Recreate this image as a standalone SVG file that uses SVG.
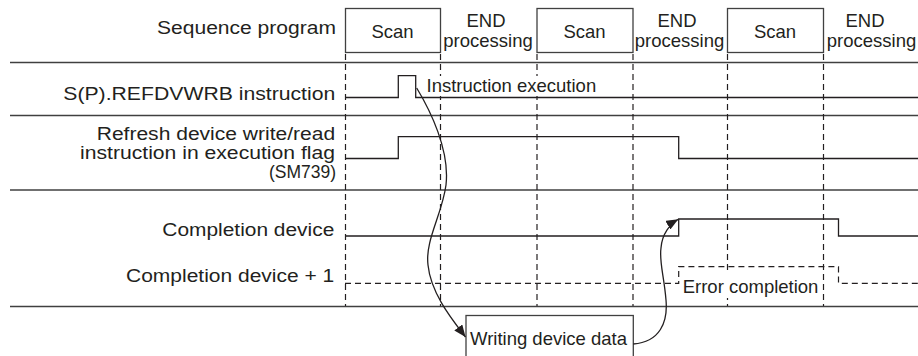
<svg xmlns="http://www.w3.org/2000/svg" width="918" height="356" viewBox="0 0 918 356">
<style>
text{font-family:"Liberation Sans",Arial,sans-serif;font-size:18.5px;fill:#231f20}
.lbl{font-size:17.5px}
.sep{stroke:#404040;stroke-width:1.5;fill:none}
.sig{stroke:#231f20;stroke-width:1.3;fill:none}
.dash{stroke:#231f20;stroke-width:1.2;fill:none;stroke-dasharray:6 4}
.box{stroke:#404040;stroke-width:1.3;fill:#fff}
.arr{stroke:#231f20;stroke-width:1.3;fill:none}
.bg{fill:#fff}
</style>
<defs>
<marker id="ah" viewBox="0 0 12 10" refX="12" refY="5" markerWidth="12" markerHeight="10" markerUnits="userSpaceOnUse" orient="auto">
<path d="M0,0 L12,5 L0,10 z" fill="#231f20"/>
</marker>
</defs>
<rect width="918" height="356" fill="#fff"/>

<g id="grid">
<line class="sep" x1="10" y1="62.5" x2="918" y2="62.5"/>
<line class="sep" x1="10" y1="115.5" x2="918" y2="115.5"/>
<line class="sep" x1="10" y1="190" x2="918" y2="190"/>
<line class="sep" x1="10" y1="306.5" x2="918" y2="306.5"/>
<line class="dash" x1="345.5" y1="54" x2="345.5" y2="306"/>
<line class="dash" x1="440.5" y1="54" x2="440.5" y2="306"/>
<line class="dash" x1="537" y1="54" x2="537" y2="306"/>
<line class="dash" x1="633" y1="54" x2="633" y2="306"/>
<line class="dash" x1="727.5" y1="54" x2="727.5" y2="306"/>
<line class="dash" x1="823.5" y1="54" x2="823.5" y2="306"/>
</g>

<g id="labels">
<text class="lbl" x="157" y="34.3" textLength="179" lengthAdjust="spacingAndGlyphs">Sequence program</text>
<text class="lbl" x="63.3" y="99.5" textLength="272" lengthAdjust="spacingAndGlyphs">S(P).REFDVWRB instruction</text>
<text class="lbl" x="96.7" y="140" textLength="238.5" lengthAdjust="spacingAndGlyphs">Refresh device write/read</text>
<text class="lbl" x="80" y="159.3" textLength="255" lengthAdjust="spacingAndGlyphs">instruction in execution flag</text>
<text class="lbl" x="336" y="178.3" text-anchor="end">(SM739)</text>
<text class="lbl" x="162.3" y="236" textLength="172" lengthAdjust="spacingAndGlyphs">Completion device</text>
<text class="lbl" x="126" y="281.7" textLength="208.3" lengthAdjust="spacingAndGlyphs">Completion device + 1</text>
</g>

<g id="scan1"><rect class="box" x="345.5" y="8.5" width="95" height="44"/><text x="392.5" y="38.3" text-anchor="middle">Scan</text></g>
<g id="end1"><text x="486" y="27.3" text-anchor="middle">END</text><text x="488" y="47" text-anchor="middle">processing</text></g>
<g id="scan2"><rect class="box" x="537" y="8.5" width="96" height="44"/><text x="584.5" y="38.3" text-anchor="middle">Scan</text></g>
<g id="end2"><text x="677" y="27.3" text-anchor="middle">END</text><text x="679.5" y="47" text-anchor="middle">processing</text></g>
<g id="scan3"><rect class="box" x="727.5" y="8.5" width="96" height="44"/><text x="775" y="38.3" text-anchor="middle">Scan</text></g>
<g id="end3"><text x="865" y="27.3" text-anchor="middle">END</text><text x="871.5" y="47" text-anchor="middle">processing</text></g>

<g id="signals">
<path class="sig" d="M345,97.5 H398.3 V75.7 H415.7 V97.5 H918"/>
<path class="sig" d="M345,158.5 H398.3 V136.7 H678.7 V158.5 H918"/>
<path class="sig" d="M345,236 H678.7 V219 H838.5 V236 H918"/>
<path class="dash" d="M345,283.3 H678.7 V266.7 H838.5 V283.3 H918"/>
</g>

<g id="instr-exec"><rect class="bg" x="425" y="76" width="172" height="20"/><text x="426.5" y="91.7">Instruction execution</text></g>
<g id="error-completion"><rect class="bg" x="681.5" y="272" width="139" height="26"/><text x="682.7" y="293">Error completion</text></g>
<g id="writing"><rect class="box" x="466" y="315.5" width="167.3" height="45"/><text x="470" y="345">Writing device data</text></g>

<g id="connectors">
<path class="arr" d="M416.7,88 C430,110 450,150 446,185 C442,215 425,240 428,265 C431,295 455,323 465.5,337" marker-end="url(#ah)"/>
<path class="arr" d="M633.3,344 C660,342 668,322 666,300 C664,275 659,262 661,248 C662,234 670,224 678.3,219.3" marker-end="url(#ah)"/>
</g>
</svg>
